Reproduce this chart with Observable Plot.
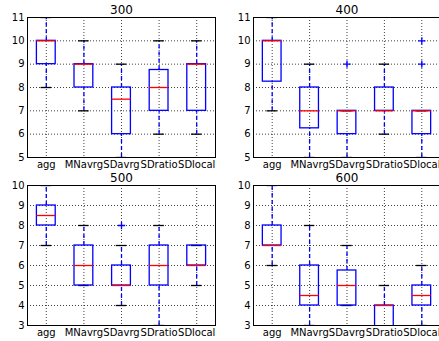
<!DOCTYPE html>
<html>
<head>
<meta charset="utf-8">
<script src="https://cdn.jsdelivr.net/npm/d3@7"></script>
<script src="https://cdn.jsdelivr.net/npm/@observablehq/plot@0.6"></script>
<style>
  html, body { margin: 0; padding: 0; background: #fff; overflow: hidden; }
  #chart { position: relative; width: 439px; height: 341px; overflow: hidden; background: #fff; }
  #chart svg { position: absolute; }
</style>
</head>
<body>
<div id="chart"></div>
<script>
// ---- data ----
const categories = ["agg", "MNavrg", "SDavrg", "SDratio", "SDlocal"];
const panelTitles = ["300", "400", "500", "600"];
const yTicksTop = [5, 6, 7, 8, 9, 10, 11];
const yTicksBottom = [3, 4, 5, 6, 7, 8, 9, 10];

// box statistics per panel (rows: 300, 400, 500, 600), columns follow categories
const whiskerLow = [
  [8, 7, 5, 6, 6],
  [7, 5, 5, 6, 5],
  [7, 5, 4, 3, 5],
  [6, 3, 4, 2, 3]
];
const quartile1 = [
  [9, 8, 6, 7, 7],
  [8.25, 6.25, 6, 7, 6],
  [8, 5, 5, 5, 6],
  [7, 4, 4, 2.5, 4]
];
const median = [
  [10, 9, 7.5, 8, 9],
  [10, 7, 7, 7, 7],
  [8.5, 6, 5, 6, 6],
  [7, 4.5, 5, 4, 4.5]
];
const quartile3 = [
  [10, 9, 8, 8.75, 9],
  [10, 8, 7, 8, 7],
  [9, 7, 6, 7, 7],
  [8, 6, 5.75, 4, 5]
];
const whiskerHigh = [
  [11, 10, 9, 10, 10],
  [11, 9, 7, 9, 7],
  [10, 8, 7, 8, 7],
  [10, 8, 7, 5, 6]
];
// outliers: [category, value]
const fliers = [
  [],
  [["SDavrg", 9], ["SDlocal", 9], ["SDlocal", 10]],
  [["SDavrg", 8]],
  []
];

// ---- layout ----
const panels = [
  {left: 0,   top: 0,   width: 220, height: 170, mt: 17, mb: 13, ml: 27, mr: 5, yDomain: [5, 11], yTicks: yTicksTop},
  {left: 220, top: 0,   width: 222, height: 170, mt: 17, mb: 13, ml: 33, mr: 2, yDomain: [5, 11], yTicks: yTicksTop},
  {left: 0,   top: 170, width: 220, height: 171, mt: 15, mb: 16, ml: 27, mr: 5, yDomain: [3, 10], yTicks: yTicksBottom},
  {left: 220, top: 170, width: 222, height: 171, mt: 15, mb: 16, ml: 33, mr: 2, yDomain: [3, 10], yTicks: yTicksBottom}
];

const chart = document.getElementById("chart");
const positions = categories.map((c, i) => i + 1);

panels.forEach((p, k) => {
  const rows = categories.map((c, i) => ({
    x: i + 1,
    lo: whiskerLow[k][i],
    q1: quartile1[k][i],
    med: median[k][i],
    q3: quartile3[k][i],
    hi: whiskerHigh[k][i]
  }));
  const out = fliers[k].map(([c, v]) => ({x: categories.indexOf(c) + 1, y: v}));
  const boxHalf = 0.25, capHalf = 0.14;

  const svg = Plot.plot({
    width: p.width,
    height: p.height,
    marginTop: p.mt,
    marginBottom: p.mb,
    marginLeft: p.ml,
    marginRight: p.mr,
    style: {fontFamily: "DejaVu Sans", fontSize: "10px", color: "#000", background: "transparent", overflow: "visible"},
    x: {domain: [0.5, 5.5], ticks: positions, tickFormat: d => categories[d - 1], tickSize: 0, tickPadding: 3, label: null},
    y: {domain: p.yDomain, ticks: p.yTicks, tickFormat: d => String(d), tickSize: 0, tickPadding: 3, label: null},
    marks: [
      Plot.ruleY(p.yTicks, {stroke: "#000", strokeOpacity: 0.75, strokeWidth: 1, strokeDasharray: "1,2"}),
      Plot.ruleX(positions, {stroke: "#000", strokeOpacity: 0.75, strokeWidth: 1, strokeDasharray: "1,2"}),
      Plot.ruleX(rows, {x: "x", y1: "q3", y2: "hi", stroke: "#0000ff", strokeWidth: 1.3, strokeDasharray: "4,3", clip: true}),
      Plot.ruleX(rows, {x: "x", y1: "lo", y2: "q1", stroke: "#0000ff", strokeWidth: 1.3, strokeDasharray: "4,3", clip: true}),
      Plot.ruleY(rows, {y: "lo", x1: d => d.x - capHalf, x2: d => d.x + capHalf, stroke: "#000", strokeWidth: 1.3, clip: true}),
      Plot.ruleY(rows, {y: "hi", x1: d => d.x - capHalf, x2: d => d.x + capHalf, stroke: "#000", strokeWidth: 1.3, clip: true}),
      Plot.rect(rows, {x1: d => d.x - boxHalf, x2: d => d.x + boxHalf, y1: "q1", y2: "q3", fill: "none", stroke: "#0000ff", strokeWidth: 1.3, clip: true}),
      Plot.ruleY(rows, {y: "med", x1: d => d.x - boxHalf, x2: d => d.x + boxHalf, stroke: "#ff0000", strokeWidth: 1.3, clip: true}),
      Plot.dot(out, {x: "x", y: "y", symbol: "plus", r: 2.5, stroke: "#0000ff", strokeWidth: 1.3}),
      Plot.frame({stroke: "#000", strokeWidth: 1}),
      Plot.text([panelTitles[k]], {frameAnchor: "top", lineAnchor: "middle", dy: -7, fontSize: 12, fill: "#000"})
    ]
  });
  svg.style.left = p.left + "px";
  svg.style.top = p.top + "px";
  svg.style.maxWidth = "none";
  chart.appendChild(svg);
});
</script>
</body>
</html>
